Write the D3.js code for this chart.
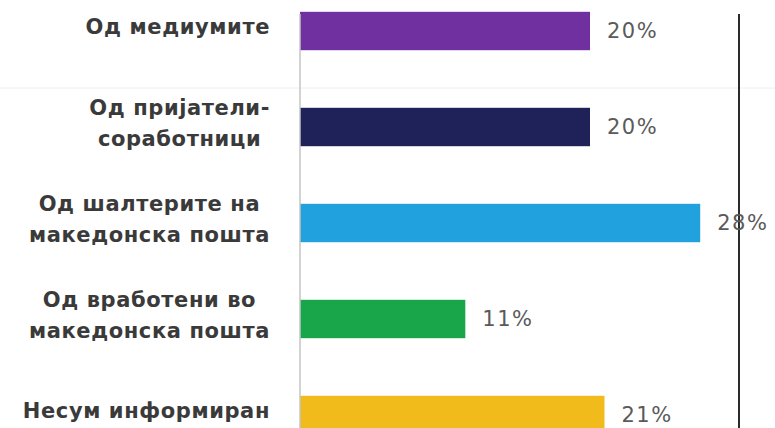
<!DOCTYPE html>
<html>
<head>
  <meta charset="utf-8">
  <script src="https://cdnjs.cloudflare.com/ajax/libs/d3/7.8.5/d3.min.js"></script>
  <title>d3</title>
  <style>
    body { margin: 0; background: #fff; }
  </style>
</head>
<body>
<script>
// categories (each one split into its lines) and values
var categorias = [
  ["Од медиумите"],
  ["Од пријатели-", "соработници"],
  ["Од шалтерите на", "македонска пошта"],
  ["Од вработени во", "македонска пошта"],
  ["Несум информиран"]
];
var valores = [20, 20, 27.6, 11.4, 21];
var colores = ["#7030a0", "#1f2259", "#21a1dd", "#19a64a", "#f1bb1c"];

var W = 775, H = 428;
var svg = d3.select("body").append("svg")
  .attr("width", W).attr("height", H);

var x = d3.scaleLinear().domain([0, 100]).range([300, 1750]);
var y = d3.scaleBand().domain(d3.range(categorias.length))
  .range([-17, 463]).paddingInner(0.6).paddingOuter(0.3);

// faint stitch line across the picture
svg.append("line")
  .attr("x1", 0).attr("x2", W).attr("y1", 88).attr("y2", 88)
  .attr("stroke", "#eeeeee").attr("stroke-width", 1);

// bars
svg.selectAll("rect.barra").data(valores).enter().append("rect")
  .attr("class", "barra")
  .attr("x", x(0))
  .attr("y", function(d, i) { return y(i); })
  .attr("width", function(d) { return x(d) - x(0); })
  .attr("height", y.bandwidth())
  .attr("fill", function(d, i) { return colores[i]; });

// category axis line
svg.append("line")
  .attr("x1", x(0)).attr("x2", x(0)).attr("y1", 14).attr("y2", H)
  .attr("stroke", "#c4c4c4").attr("stroke-width", 1.5);

// right side black line
svg.append("line")
  .attr("x1", 739).attr("x2", 739).attr("y1", 14).attr("y2", H)
  .attr("stroke", "#2b2b2b").attr("stroke-width", 2);

// value labels
svg.selectAll("text.valor").data(valores).enter().append("text")
  .attr("class", "valor")
  .attr("x", function(d) { return x(d) + 17; })
  .attr("y", function(d, i) { return y(i) + y.bandwidth() / 2; })
  .attr("dy", "0.35em")
  .attr("font-family", "DejaVu Sans, sans-serif")
  .attr("font-size", 21)
  .attr("letter-spacing", 1.5)
  .attr("fill", "#5a5a5a")
  .text(function(d) { return Math.round(d) + "%"; });

// category labels: block right aligned at 270, lines centred in the block
var lineH = 31;
categorias.forEach(function(lineas, i) {
  var g = svg.append("g");
  var cy = y(i) + y.bandwidth() / 2 - 4;
  var t = g.selectAll("text").data(lineas).enter().append("text")
    .attr("font-family", "DejaVu Sans, sans-serif")
    .attr("font-weight", "bold")
    .attr("font-size", 21)
    .attr("letter-spacing", 0.6)
    .attr("fill", "#3a3a3a")
    .attr("text-anchor", "middle")
    .attr("y", function(d, j) { return cy + (j - (lineas.length - 1) / 2) * lineH; })
    .attr("dy", "0.35em")
    .text(function(d) { return d; });
  var ancho = d3.max(t.nodes(), function(n) { return n.getComputedTextLength(); });
  t.attr("x", 270 - ancho / 2);
});
</script>
</body>
</html>
